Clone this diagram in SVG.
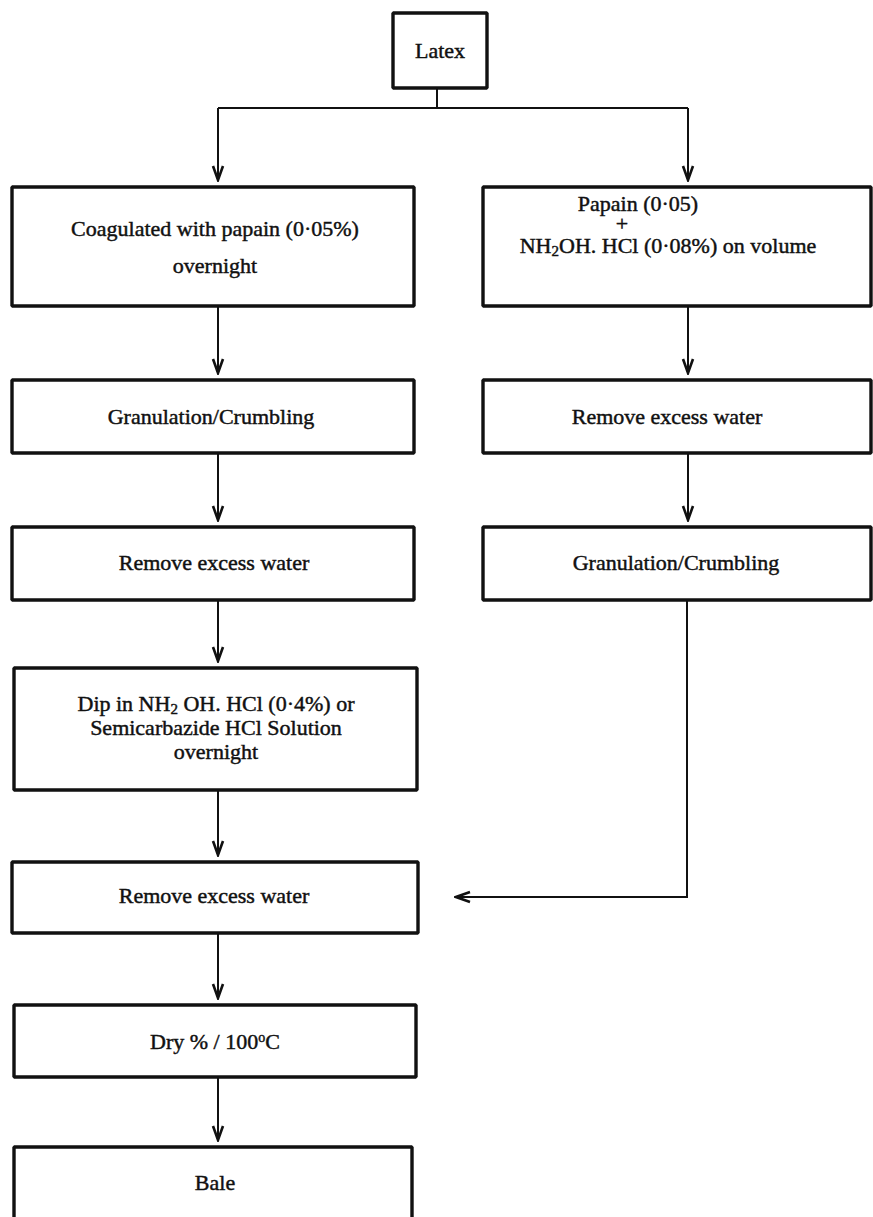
<svg xmlns="http://www.w3.org/2000/svg" width="873" height="1217" viewBox="0 0 873 1217">
<style>
.box{fill:none;stroke:#111;stroke-width:3.4;stroke-linejoin:bevel}
.t{font-family:"Liberation Serif","Times New Roman",serif;font-size:22px;fill:#111;stroke:#111;stroke-width:0.45;text-anchor:middle}
.c{fill:none;stroke:#111;stroke-width:2}
</style>
<defs>
<marker id="v" viewBox="-16 -8 18 16" refX="0" refY="0" markerWidth="18" markerHeight="16" markerUnits="userSpaceOnUse" orient="auto">
<path d="M-14,-5 L0,0 L-14,5" fill="none" stroke="#111" stroke-width="2.6"/>
</marker>
</defs>
<rect width="873" height="1217" fill="#fff"/>
<g id="connectors">
<path class="c" d="M437,88 V108"/>
<path class="c" d="M218,108 H688"/>
<path class="c" d="M218,108 V180" marker-end="url(#v)"/>
<path class="c" d="M688,108 V180" marker-end="url(#v)"/>
<path class="c" d="M218,306 V373" marker-end="url(#v)"/>
<path class="c" d="M688,306 V373" marker-end="url(#v)"/>
<path class="c" d="M218,453 V520" marker-end="url(#v)"/>
<path class="c" d="M688,453 V520" marker-end="url(#v)"/>
<path class="c" d="M218,600 V661" marker-end="url(#v)"/>
<path class="c" d="M218,790 V855" marker-end="url(#v)"/>
<path class="c" d="M687,600 V897 H456" marker-end="url(#v)"/>
<path class="c" d="M218,933 V998" marker-end="url(#v)"/>
<path class="c" d="M218,1077 V1140" marker-end="url(#v)"/>
</g>
<g id="latex">
<rect class="box" x="393" y="13" width="94" height="75"/>
<text class="t" x="440" y="58" font-size="23">Latex</text>
</g>
<g id="coagulated">
<rect class="box" x="12" y="187" width="402" height="119"/>
<text class="t" x="215" y="236">Coagulated with papain (0·05%)</text>
<text class="t" x="215" y="273">overnight</text>
</g>
<g id="papain">
<rect class="box" x="483" y="187" width="388" height="119"/>
<text class="t" x="638" y="211">Papain (0·05)</text>
<text class="t" x="622" y="231" font-size="16" stroke-width="0.2">+</text>
<text class="t" x="668" y="253" font-size="23">NH<tspan font-size="15" dy="3">2</tspan><tspan dy="-3">OH. HCl (0·08%) on volume</tspan></text>
</g>
<g id="granulation-left">
<rect class="box" x="12" y="380" width="402" height="73"/>
<text class="t" x="211" y="424">Granulation/Crumbling</text>
</g>
<g id="remove-right">
<rect class="box" x="483" y="380" width="388" height="73"/>
<text class="t" x="667" y="424">Remove excess water</text>
</g>
<g id="remove-left">
<rect class="box" x="12" y="527" width="402" height="73"/>
<text class="t" x="214" y="570">Remove excess water</text>
</g>
<g id="granulation-right">
<rect class="box" x="483" y="527" width="388" height="73"/>
<text class="t" x="676" y="570">Granulation/Crumbling</text>
</g>
<g id="dip">
<rect class="box" x="14" y="668" width="403" height="122"/>
<text class="t" x="216" y="711">Dip in NH<tspan font-size="15" dy="3">2</tspan><tspan dy="-3"> OH. HCl (0·4%) or</tspan></text>
<text class="t" x="216" y="735">Semicarbazide HCl Solution</text>
<text class="t" x="216" y="759">overnight</text>
</g>
<g id="remove-final">
<rect class="box" x="12" y="862" width="406" height="71"/>
<text class="t" x="214" y="903">Remove excess water</text>
</g>
<g id="dry">
<rect class="box" x="14" y="1005" width="402" height="72"/>
<text class="t" x="215" y="1049">Dry % / 100<tspan font-size="14" dy="-7">o</tspan><tspan dy="7">C</tspan></text>
</g>
<g id="bale">
<rect class="box" x="14" y="1147" width="398" height="90"/>
<text class="t" x="215" y="1190">Bale</text>
</g>
</svg>
